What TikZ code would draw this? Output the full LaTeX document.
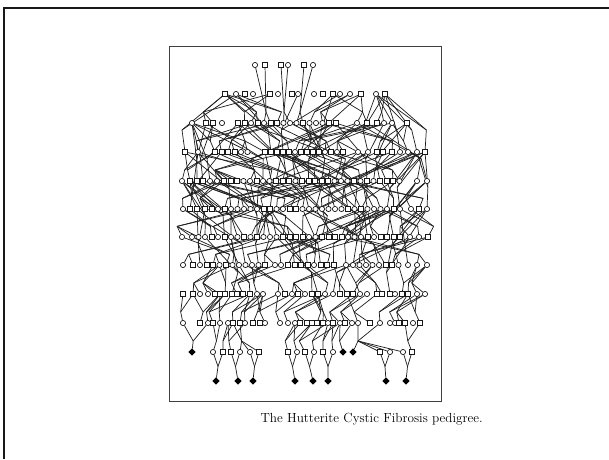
\documentclass[tikz,border=0pt]{standalone}
\usetikzlibrary{calc,shapes.geometric}
\pgfdeclarelayer{lines}
\pgfsetlayers{lines,main}
\tikzset{
  person/.style={draw=black!90, fill=white, line width=0.7pt, inner sep=0pt, minimum size=5.2pt},
  male/.style={person, rectangle},
  female/.style={person, circle},
  affected/.style={diamond, fill=black, inner sep=0pt, minimum size=7.4pt},
  link/.style={line width=0.72pt, black!88},
}
\newcount\pcount
\pgfmathdeclarerandomlist{sex}{{male}{female}}
% one person of generation #1 at x=#2, of type #3
\newcommand\person[3]{%
  \global\advance\pcount by 1
  \def\ptype{#3}\def\panysex{anysex}%
  \ifx\ptype\panysex\pgfmathrandomitem{\ptype}{sex}\fi
  \expandafter\xdef\csname px-#1-\the\pcount\endcsname{#2}%
  \node[\ptype] (g#1-\the\pcount) at (#2,\csname py-#1\endcsname) {};}
\newcommand\closerow[1]{%
  \expandafter\xdef\csname nrow#1\endcsname{\the\pcount}\global\pcount=0 }
% one couple #2,#3 of generation #1, children #5 of generation #4, meeting at x=#6
\newcommand\family[6]{%
  \coordinate (j#1-#2-#3) at (#6,{\csname py-#4\endcsname-11});
  \draw[link] (g#1-#2) -- (j#1-#2-#3);
  \draw[link] (g#1-#3) -- (j#1-#2-#3);
  \foreach \k in {#5} {\draw[link] (j#1-#2-#3) -- (g#4-\k);
    \expandafter\xdef\csname hp-#4-\k\endcsname{1}}}
% parents in generation #1 for the people of generation #2
\newcommand\descent[4]{% spread #3, share with parents #4
  \pgfmathtruncatemacro\np{\csname nrow#1\endcsname}%
  \pgfmathtruncatemacro\nc{\csname nrow#2\endcsname}%
  \pgfmathsetmacro\jy{\csname py-#2\endcsname-0.38*(\csname py-#2\endcsname-\csname py-#1\endcsname)}%
  \gdef\lastj{0}%
  \foreach \j in {1,...,\nc} {%
    \pgfmathtruncatemacro\has{rnd<#4}%
    \ifcsname hp-#2-\j\endcsname \def\has{0}\fi
    \ifnum\has=1
      \expandafter\xdef\csname hp-#2-\j\endcsname{1}%
      \pgfmathtruncatemacro\sib{rnd<0.5}%
      \ifnum\lastj=0 \def\sib{0}\fi
      \ifnum\sib=1
        \draw[link] (j#1-#2-\lastj) -- (g#2-\j);
      \else
        \pgfmathsetmacro\tx{\csname px-#2-\j\endcsname+(2*rnd-1)*#3}%
        \gdef\best{1}\gdef\bestd{9999}%
        \foreach \i in {1,...,\np} {%
          \pgfmathsetmacro\d{abs(\csname px-#1-\i\endcsname-\tx)}%
          \pgfmathtruncatemacro\closer{\d<\bestd}%
          \ifnum\closer=1 \xdef\best{\i}\xdef\bestd{\d}\fi
        }%
        \let\pa\best
        \pgfmathtruncatemacro\pb{\pa<\np ? \pa+1+int(4*rnd^2) : \pa-1}%
        \pgfmathtruncatemacro\pb{min(\pb,\np)}%
        \pgfmathsetmacro\jx{\csname px-#2-\j\endcsname+(2*rnd-1)*6}%
        \coordinate (j#1-#2-\j) at (\jx,\jy);
        \draw[link] (g#1-\pa) -- (j#1-#2-\j) -- (g#2-\j);
        \draw[link] (g#1-\pb) -- (j#1-#2-\j);
        \xdef\lastj{\j}%
      \fi
    \else
      \gdef\lastj{0}%
    \fi
  }}

\begin{document}
\begin{tikzpicture}[x=1pt, y=-1pt]
  \useasboundingbox (0,0) rectangle (609,459);
  \pgfmathsetseed{2718}
  \foreach \r/\y in {1/65,2/94,3/123,4/152,5/181,6/209,7/237,8/265,9/294,10/323,11/352,12/381}
    {\expandafter\xdef\csname py-\r\endcsname{\y}}
  % frames
  \draw[line width=2.4pt, black!90] (4,459) -- (4,8) -- (609,8);
  \draw[line width=0.8pt, black!75] (169,46) rectangle (441,401);
  % generations
  \foreach \x/\t in {255/female,265/male,281/male,288/female,304/male,313/female} {\person{1}{\x}{\t}}
  \closerow{1}
  \foreach \x/\t in {225/male,236/female,245/male,253/female,270/male,278/female,292/male,298/female,
    314/female,323/male,333/male,340/female,350/female,361/male,376/female,385/male} {\person{2}{\x}{\t}}
  \closerow{2}
  \foreach \x/\t in {192/female,206/male,213/male,222/female} {\person{3}{\x}{\t}}
  \foreach \x in {238,244.5,...,338} {\person{3}{\x}{anysex}}
  \foreach \x/\t in {357/female,367/male,377/male,384/female,392/female,407/male} {\person{3}{\x}{\t}}
  \closerow{3}
  \foreach \x/\t in {185/male,198/female} {\person{4}{\x}{\t}}
  \foreach \x in {215,221.5,...,250} {\person{4}{\x}{anysex}}
  \foreach \x in {265,271,...,346} {\person{4}{\x}{anysex}}
  \foreach \x/\t in {358/female,368/female,377/male,383/male,392/male,400/female,408/female,417/female,425/male}
    {\person{4}{\x}{\t}}
  \closerow{4}
  \foreach \x/\t in {182/female,190/male,197/male,203/male,210/female,217/female} {\person{5}{\x}{\t}}
  \foreach \x in {224,230.5,...,400} {\person{5}{\x}{anysex}}
  \foreach \x/\t in {417/female,427/female} {\person{5}{\x}{\t}}
  \closerow{5}
  \foreach \x/\t in {183/female,190/male,197/male} {\person{6}{\x}{\t}}
  \foreach \x in {205,211.5,...,402} {\person{6}{\x}{anysex}}
  \foreach \x/\t in {411/female,419/male,427/female} {\person{6}{\x}{\t}}
  \closerow{6}
  \foreach \x/\t in {182/female} {\person{7}{\x}{\t}}
  \foreach \x in {192,198.5,...,402} {\person{7}{\x}{anysex}}
  \foreach \x/\t in {410/female,419/female,428/male} {\person{7}{\x}{\t}}
  \closerow{7}
  \foreach \x/\t in {183/female,193/male} {\person{8}{\x}{\t}}
  \foreach \x in {200,206.5,...,268} {\person{8}{\x}{anysex}}
  \foreach \x/\t in {275/female,281/female} {\person{8}{\x}{\t}}
  \foreach \x in {288,294.5,...,338} {\person{8}{\x}{anysex}}
  \foreach \x/\t in {346/female} {\person{8}{\x}{\t}}
  \foreach \x in {353,359.5,...,401} {\person{8}{\x}{anysex}}
  \foreach \x/\t in {408/female,417/female,427/female} {\person{8}{\x}{\t}}
  \closerow{8}
  \foreach \x/\t in {183/male,193/male,200/female,208/female,215/male,220/male,225/male,232/male,237/male,
    243/male,250/male,257/female,263/female,278/female,285/male,292/female,298/male,305/female,312/male,
    318/male,325/female,333/female,340/male,347/male,353/male,360/female,367/female,377/male,382/male,
    390/male,395/female,402/male,408/male,417/female,425/female} {\person{9}{\x}{\t}}
  \closerow{9}
  \foreach \x/\t in {183/female,200/male,208/female,213/male,220/female,228/female,233/male,240/male,
    245/female,253/male,260/male,265/female,280/female,288/female,295/female,300/male,307/male,312/male,
    317/male,323/male,328/female,333/male,340/female,345/male,352/female,358/female,370/male,380/female,
    390/female,395/female,399/male,405/male,413/female,420/male} {\person{10}{\x}{\t}}
  \closerow{10}
  \foreach \x/\t in {192/affected,213/female,223/male,231/male,240/female,250/female,259/male,288/male,
    297/female,305/male,314/female,323/male,333/female,343/affected,353/affected,380/male,390/female,
    403/female,412/male} {\person{11}{\x}{\t}}
  \closerow{11}
  \foreach \x in {216,238,253,295,313,328,386,406} {\person{12}{\x}{affected}}
  \closerow{12}
  % lines of descent
  \begin{pgfonlayer}{lines}
    \family{1}{1}{2}{3}{9,10}{266}
    \family{1}{3}{4}{3}{12,13}{284}
    \family{1}{5}{6}{3}{14,15}{300}
    \descent{2}{3}{50}{0.55}
    \descent{2}{4}{80}{0.2}
    \descent{3}{5}{100}{0.35}
    \descent{4}{6}{100}{0.35}
    \descent{5}{7}{100}{0.35}
    \descent{6}{8}{100}{0.3}
    \descent{7}{9}{80}{0.15}
    \descent{3}{4}{80}{0.92}
    \descent{4}{5}{85}{0.97}
    \descent{5}{6}{85}{0.97}
    \descent{6}{7}{85}{0.97}
    \descent{7}{8}{80}{0.97}
    \descent{8}{9}{55}{0.92}
    \descent{9}{10}{25}{0.92}
    \descent{10}{11}{10}{1.1}
    \foreach \c/\a/\b in {1/2/3,2/4/5,3/6/7,4/8/9,5/10/11,6/12/13,7/16/17,8/18/19} {
      \coordinate (j11-\a-\b) at ($(g11-\a)!0.5!(g11-\b)+(0,14.5)$);
      \draw[link] (g11-\a) -- (j11-\a-\b) -- (g12-\c);
      \draw[link] (g11-\b) -- (j11-\a-\b);
    }
  \end{pgfonlayer}
  \node[anchor=west, font=\fontsize{13.2}{16}\selectfont] (caption) at (257,419)
    {The Hutterite Cystic Fibrosis pedigree.};
\end{tikzpicture}
\end{document}
